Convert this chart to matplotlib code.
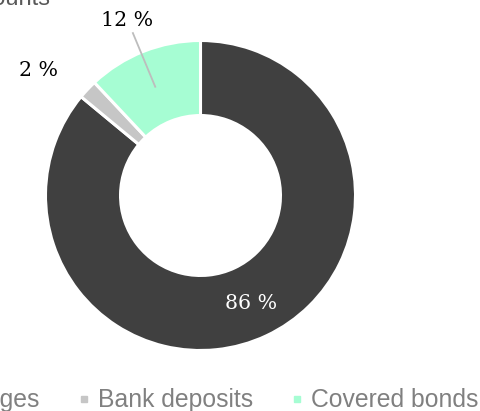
import matplotlib
matplotlib.use('Agg')
import matplotlib.pyplot as plt
from matplotlib.lines import Line2D
import numpy as np

categories = ['Mortgages', 'Bank deposits', 'Covered bonds']
shares = [86, 2, 12]
labels = ['86 %', '2 %', '12 %']
colors = ['#404040', '#c6c6c6', '#a6fdd3']

W, H = 481, 411
fig = plt.figure(figsize=(W / 100, H / 100), dpi=100)
ax = fig.add_axes([0, 0, 1, 1])

cx, cy, R = 200.5, H - 195.5, 155
wedges, _ = ax.pie(shares, colors=colors, startangle=90, counterclock=False,
                   center=(cx, cy), radius=R,
                   wedgeprops=dict(width=R * 0.484, edgecolor='white', linewidth=2.2))
ax.set_xlim(0, W)
ax.set_ylim(0, H)
ax.set_aspect('equal')
ax.axis('off')

# label placement per slice: (angle offset in deg, radius factor, colour)
place = [(0, 0.77, 'white'), (5.5, 1.32, 'black'), (1.0, 1.226, 'black')]
for w, lab, (off, rf, col) in zip(wedges, labels, place):
    mid = (w.theta1 + w.theta2) / 2
    a = np.deg2rad(mid + off)
    ax.text(cx + rf * R * np.cos(a), cy + rf * R * np.sin(a), lab,
            ha='center', va='center', color=col, fontsize=14.8, family='DejaVu Serif')

# leader line for the covered bonds label
w = wedges[2]
a = np.deg2rad((w.theta1 + w.theta2) / 2 + 1.0)
ax.plot([cx + 1.135 * R * np.cos(a), cx + 0.76 * R * np.cos(a)],
        [cy + 1.135 * R * np.sin(a), cy + 0.76 * R * np.sin(a)],
        color='#bdbdbd', lw=1.3)

fig.text(50 / W, 1 - 5 / H, 'Cover pool composition by amounts', ha='right', va='baseline',
         fontsize=17, color='#595959', family='Liberation Sans')

handles = [Line2D([], [], marker='s', ls='none', color=c, markersize=5) for c in colors]
fig.legend(handles, categories, loc='lower right', bbox_to_anchor=(478 / W, -0.003),
           ncol=3, frameon=False, borderpad=0, borderaxespad=0, handlelength=0.4,
           handletextpad=0.34, columnspacing=1.6,
           prop=dict(family='Liberation Sans', size=17.8), labelcolor='#808080')

fig.savefig('out.png', dpi=100)
